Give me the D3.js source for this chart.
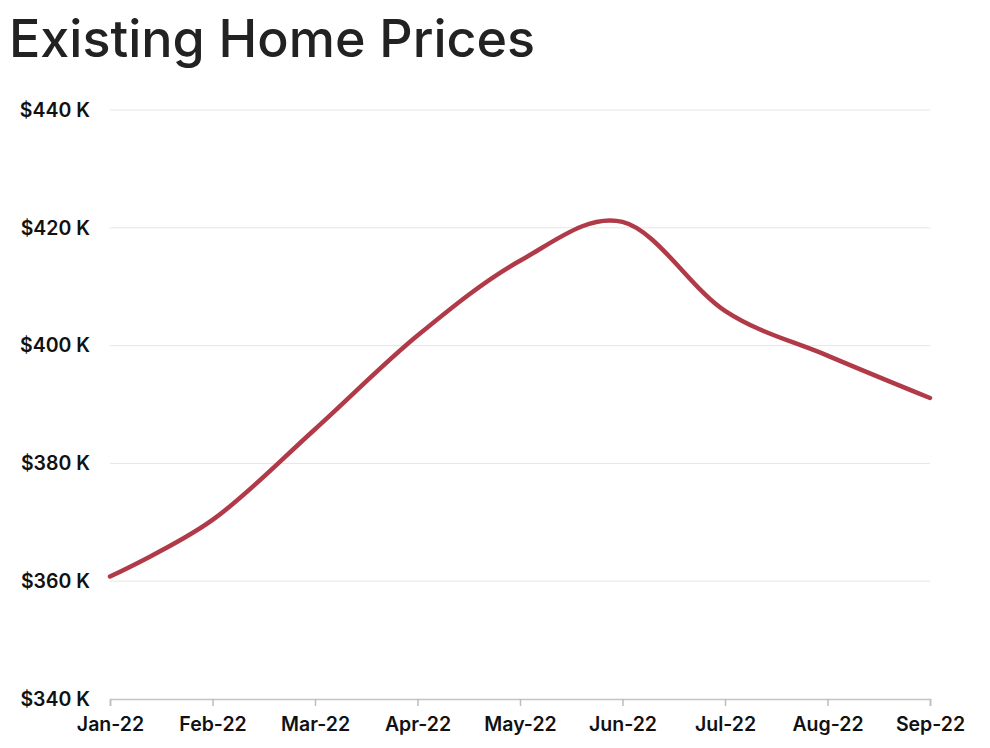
<!DOCTYPE html>
<html>
<head>
<meta charset="utf-8">
<script src="https://cdn.jsdelivr.net/npm/d3@7"></script>
<style>
  html, body { margin: 0; padding: 0; background: #fff; }
  svg { display: block; }
</style>
</head>
<body>
<svg id="chart" width="990" height="748"></svg>
<script>
const title = "Existing Home Prices";
const months = ["Jan-22", "Feb-22", "Mar-22", "Apr-22", "May-22", "Jun-22", "Jul-22", "Aug-22", "Sep-22"];
const prices = [360.8, 370.4, 385.8, 401.7, 414.4, 421.0, 405.9, 398.3, 391.1];
const yTicks = [340, 360, 380, 400, 420, 440];

const svg = d3.select("#chart");
const margin = { left: 110, right: 60, top: 110, bottom: 49 };
const W = 990, H = 748;

const x = d3.scalePoint().domain(months).range([margin.left, W - margin.right]);
const y = d3.scaleLinear().domain([340, 440]).range([H - margin.bottom, margin.top]);

svg.append("text")
  .attr("x", 9).attr("y", 57)
  .attr("font-family", "Inter, Roboto, sans-serif")
  .attr("font-size", 52).attr("font-weight", 500)
  .attr("fill", "#222")
  .text(title);

// gridlines
svg.append("g").selectAll("line")
  .data(yTicks.filter(d => d !== 340))
  .join("line")
  .attr("x1", margin.left).attr("x2", W - margin.right)
  .attr("y1", d => y(d)).attr("y2", d => y(d))
  .attr("stroke", "#e6e6e6").attr("stroke-width", 1);

const labelFont = g => g.selectAll("text")
  .attr("font-family", "Inter, Roboto, sans-serif")
  .attr("font-size", 19.5).attr("font-weight", 600).attr("fill", "#111");

// y labels
const yAxis = d3.axisLeft(y).tickValues(yTicks).tickSize(0).tickPadding(20)
  .tickFormat(d => "$" + d + " K");
svg.append("g").attr("transform", `translate(${margin.left},0)`).call(yAxis)
  .call(g => g.select(".domain").remove())
  .call(labelFont);

// x axis
const xAxis = d3.axisBottom(x).tickSize(7).tickPadding(11);
svg.append("g").attr("transform", `translate(0,${y(340)})`).call(xAxis)
  .call(g => g.select(".domain").attr("stroke", "#c4c4c4").attr("stroke-width", 1.5))
  .call(g => g.selectAll(".tick line").attr("stroke", "#bdbdbd").attr("stroke-width", 1.5))
  .call(labelFont);

// line
const line = d3.line()
  .x((d, i) => x(months[i]))
  .y(d => y(d))
  .curve(d3.curveCardinal.tension(0));

svg.append("path")
  .datum(prices)
  .attr("d", line)
  .attr("fill", "none")
  .attr("stroke", "#b03a48")
  .attr("stroke-width", 4.5)
  .attr("stroke-linecap", "round");
</script>
</body>
</html>
